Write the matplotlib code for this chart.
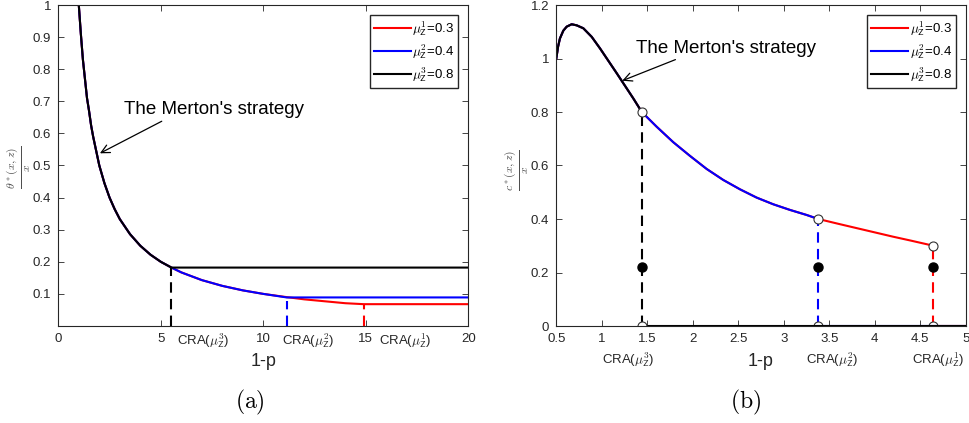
import numpy as np
import matplotlib
matplotlib.use('Agg')
import matplotlib.pyplot as plt

plt.rcParams['font.family'] = ['Liberation Sans', 'DejaVu Sans']
plt.rcParams['mathtext.fontset'] = 'cm'

# series: mu_Z values, colours in drawing order (red, blue, black)
mu_labels = [r'$\mu_{\mathsf{Z}}^{1}$=0.3', r'$\mu_{\mathsf{Z}}^{2}$=0.4', r'$\mu_{\mathsf{Z}}^{3}$=0.8']
colors = ['red', 'blue', 'black']
cra_names = [r'CRA($\mu_{\mathsf{Z}}^{1}$)', r'CRA($\mu_{\mathsf{Z}}^{2}$)', r'CRA($\mu_{\mathsf{Z}}^{3}$)']

# panel (a): Merton curve theta*/x
theta_x = [1.0, 1.1, 1.2, 1.3, 1.4, 1.5, 1.6, 1.7, 1.8, 2.0, 2.25, 2.5, 2.75, 3.0, 3.5, 4.0,
           4.5, 5.0, 5.52, 6.0, 7.0, 8.0, 9.0, 10.0, 11.14, 12.0, 13.0, 14.0, 14.9]
theta_y = [1.0, 0.91, 0.83, 0.77, 0.71, 0.67, 0.625, 0.59, 0.56, 0.50, 0.445, 0.40, 0.364, 0.333,
           0.286, 0.25, 0.222, 0.20, 0.182, 0.167, 0.143, 0.125, 0.111, 0.10, 0.09, 0.083,
           0.077, 0.071, 0.068]
cra_a = [14.9, 11.14, 5.52]
plateau_a = [0.068, 0.089, 0.182]
dash_top_a = [0.068, 0.078, 0.18]
cra_lbl_x_a = [15.64, 10.9, 5.77]

# panel (b): Merton curve c*/x
c_x = [0.5, 0.52, 0.54, 0.577, 0.614, 0.669, 0.724, 0.797, 0.889, 0.98, 1.071, 1.164, 1.255,
       1.346, 1.44, 1.603, 1.786, 1.969, 2.153, 2.335, 2.519, 2.702, 2.885, 3.068, 3.252,
       3.38, 3.6, 3.8, 4.0, 4.2, 4.4, 4.645]
c_y = [1.0, 1.045, 1.075, 1.104, 1.119, 1.128, 1.124, 1.113, 1.081, 1.038, 0.992, 0.945, 0.898,
       0.851, 0.80, 0.745, 0.687, 0.636, 0.587, 0.546, 0.511, 0.480, 0.455, 0.434, 0.415,
       0.40, 0.382, 0.366, 0.350, 0.334, 0.319, 0.30]
cra_b = [4.645, 3.38, 1.44]
jump_b = [0.30, 0.40, 0.80]
dot_y = 0.22
cra_lbl_x_b = [4.70, 3.537, 1.29]

W, H = 969, 423
fig = plt.figure(figsize=(W / 100, H / 100), dpi=100)
ax1 = fig.add_axes([58.3 / W, 1 - 326 / H, 410 / W, 321 / H])
ax2 = fig.add_axes([556.3 / W, 1 - 326 / H, 409.4 / W, 321 / H])

dash = (0, (5, 3))

tx = np.array(theta_x)
ty = np.array(theta_y)
for col, lab, cra, pl, top in zip(colors, mu_labels, cra_a, plateau_a, dash_top_a):
    m = tx < cra - 1e-9
    xs = np.concatenate([tx[m], [cra, 20]])
    ys = np.concatenate([ty[m], [pl, pl]])
    ax1.plot(xs, ys, color=col, lw=1.5, label=lab)
    ax1.plot([cra, cra], [0, top], color=col, lw=1.5, ls=dash)

ax1.set_xlim(0, 20)
ax1.set_ylim(0, 1)
ax1.set_xticks([0, 5, 10, 15, 20])
ax1.set_yticks(np.arange(0.1, 1.01, 0.1))
ax1.set_yticklabels(['%g' % v for v in np.round(np.arange(0.1, 1.01, 0.1), 1)])
ax1.annotate("The Merton's strategy", xy=(2.03, 0.538), xytext=(3.2, 0.673),
             fontsize=13.5, va='center', ha='left',
             arrowprops=dict(arrowstyle='->', color='black', lw=0.9, shrinkA=0, shrinkB=0,
                             mutation_scale=15, relpos=(0.24, 0.0)),
             annotation_clip=False)
for xl, nm in zip(cra_lbl_x_a, cra_names):
    ax1.text(xl, -0.046, nm, transform=ax1.get_xaxis_transform(), fontsize=9.5,
             ha='left', va='center', color='0.15')

cx = np.array(c_x)
cy = np.array(c_y)
for col, lab, cra, jy in zip(colors, mu_labels, cra_b, jump_b):
    m = cx <= cra + 1e-9
    ax2.plot(cx[m], cy[m], color=col, lw=1.5, label=lab)
    ax2.plot([cra, 5], [0, 0], color=col, lw=1.5)
    ax2.plot([cra, cra], [0, jy], color=col, lw=1.5, ls=dash)
    ax2.plot([cra, cra], [jy, 0], ls='none', marker='o', ms=6.5, mfc='white', mec='0.2', mew=0.8)
    ax2.plot([cra], [dot_y], ls='none', marker='o', ms=6.5, color='black')

ax2.set_xlim(0.5, 5)
ax2.set_ylim(0, 1.2)
ax2.set_xticks(np.arange(0.5, 5.01, 0.5))
ax2.set_xticklabels(['%g' % v for v in np.arange(0.5, 5.01, 0.5)])
ax2.set_yticks(np.arange(0, 1.21, 0.2))
ax2.set_yticklabels(['%g' % v for v in np.round(np.arange(0, 1.21, 0.2), 1)])
ax2.annotate("The Merton's strategy", xy=(1.225, 0.917), xytext=(1.372, 1.038),
             fontsize=13.5, va='center', ha='left',
             arrowprops=dict(arrowstyle='->', color='black', lw=0.9, shrinkA=0, shrinkB=0,
                             mutation_scale=15, relpos=(0.26, 0.0)),
             annotation_clip=False)
for xl, nm in zip(cra_lbl_x_b, cra_names):
    ax2.text(xl, -0.106, nm, transform=ax2.get_xaxis_transform(), fontsize=9.5,
             ha='center', va='center', color='0.15')

for ax in (ax1, ax2):
    ax.tick_params(direction='in', top=True, right=True, length=4, width=0.6,
                   labelsize=9.5, colors='0.15', pad=5)
    for s in ax.spines.values():
        s.set_linewidth(0.8)
        s.set_color('0.15')
    ax.set_xlabel('1-p', fontsize=13, color='0.15')
    ax.xaxis.set_label_coords(0.5, -0.112)
    ax.xaxis.label.set_va('center')
    ax.legend(loc='upper right', bbox_to_anchor=(0.976, 0.969), borderaxespad=0,
              fontsize=9.5, handlelength=2.8, labelspacing=0.35, borderpad=0.3,
              handletextpad=0.1, frameon=True, fancybox=False, edgecolor='0.15',
              framealpha=1)

fig.text(19 / W, 1 - 167 / H, r'$\frac{\theta^*(x,z)}{x}$', rotation=90, fontsize=12,
         ha='center', va='center', color='0.3')
fig.text(517 / W, 1 - 170 / H, r'$\frac{c^*(x,z)}{x}$', rotation=90, fontsize=12,
         ha='center', va='center', color='0.3')
fig.text(250 / W, 1 - 402 / H, r'$\mathrm{(a)}$', fontsize=17, ha='center', va='center')
fig.text(746 / W, 1 - 402 / H, r'$\mathrm{(b)}$', fontsize=17, ha='center', va='center')

fig.savefig('out.png', dpi=100)
